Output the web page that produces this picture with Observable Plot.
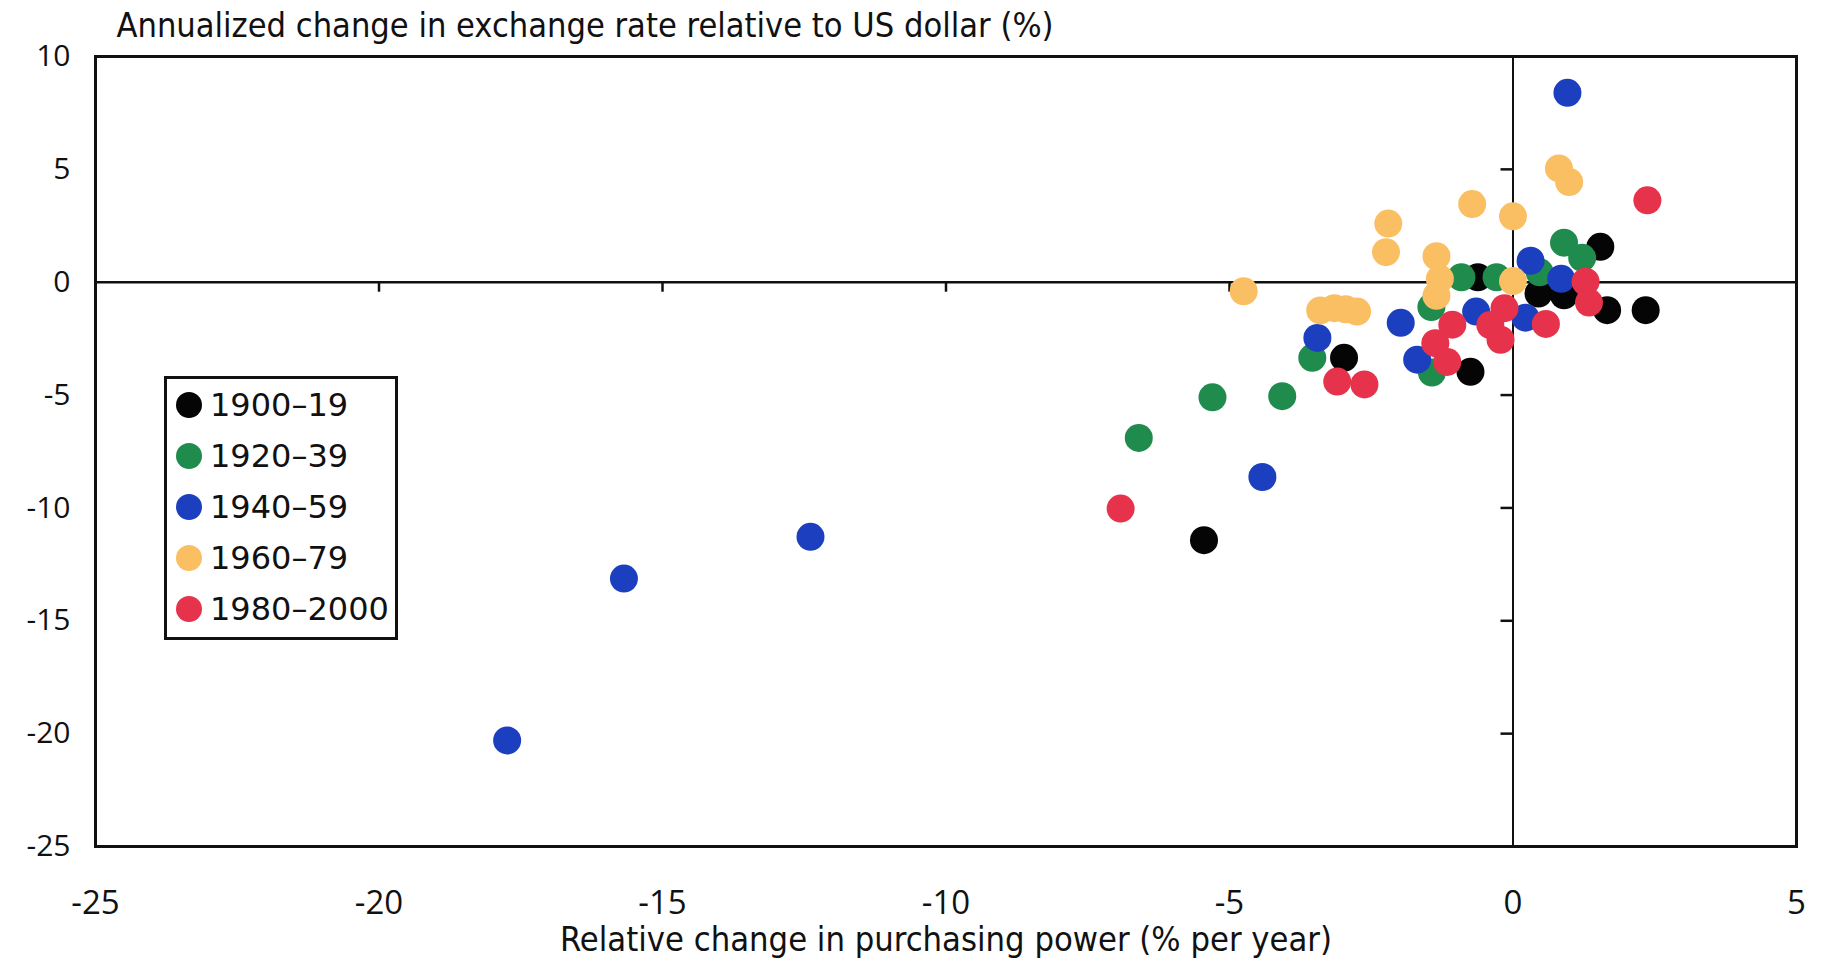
<!DOCTYPE html>
<html>
<head>
<meta charset="utf-8">
<script src="https://cdn.jsdelivr.net/npm/d3@7"></script>
<script src="https://cdn.jsdelivr.net/npm/@observablehq/plot@0.6"></script>
<style>
  html, body { margin: 0; padding: 0; background: #fff; }
  #wrap { position: relative; width: 1825px; height: 963px; }
  #legend {
    position: absolute; left: 164px; top: 376px; width: 234px; height: 264px;
    box-sizing: border-box; border: 3px solid #111; background: #fff;
    font-family: "DejaVu Sans", sans-serif; font-size: 32px; color: #111;
  }
  #legend .row { display: flex; align-items: center; height: 51px; }
  #legend .sw { width: 26px; height: 26px; border-radius: 50%; margin-left: 9px; margin-right: 8px; flex: none; }
</style>
</head>
<body>
<div id="wrap"><div id="legend"></div></div>
<script>
// ---- data ----
const periods = ["1900–19", "1920–39", "1940–59", "1960–79", "1980–2000"];
const colors = ["#050505", "#1f8b4c", "#1b3fbf", "#fbbf63", "#e6324b"];

const pts1900 = [[-5.45,-11.43],[-2.98,-3.35],[-0.75,-3.97],[-0.62,0.22],[0.45,-0.5],[0.9,-0.58],[1.54,1.57],[1.66,-1.24],[2.34,-1.24]];
const pts1920 = [[-6.6,-6.9],[-5.3,-5.1],[-4.07,-5.05],[-3.54,-3.35],[-1.44,-1.1],[-1.43,-4.0],[-0.91,0.22],[-0.29,0.22],[0.47,0.44],[0.9,1.75],[1.22,1.08]];
const pts1940 = [[-17.74,-20.3],[-15.68,-13.13],[-12.39,-11.28],[-4.42,-8.63],[-3.45,-2.47],[-1.98,-1.8],[-1.69,-3.43],[-0.65,-1.3],[0.22,-1.57],[0.31,0.95],[0.85,0.15],[0.96,8.39]];
const pts1960 = [[-4.75,-0.4],[-3.4,-1.25],[-3.15,-1.15],[-2.95,-1.2],[-2.75,-1.3],[-2.2,2.6],[-2.24,1.33],[-1.35,1.15],[-1.29,0.15],[-1.35,-0.6],[-0.72,3.46],[0.0,2.92],[0.0,0.05],[0.81,5.04],[0.99,4.44]];
const pts1980 = [[-6.92,-10.03],[-3.1,-4.4],[-2.62,-4.53],[-1.37,-2.7],[-1.16,-3.53],[-1.07,-1.88],[-0.4,-1.9],[-0.22,-2.55],[-0.15,-1.15],[0.58,-1.85],[1.28,0.02],[1.34,-0.9],[2.37,3.63]];

const xTicks = [-25, -20, -15, -10, -5, 0, 5];
const yTicks = [10, 5, 0, -5, -10, -15, -20, -25];
const xInnerTicks = [-20, -15, -10, -5];
const yInnerTicks = [5, -5, -10, -15, -20];
const titleText = "Annualized change in exchange rate relative to US dollar (%)";
const xLabelText = "Relative change in purchasing power (% per year)";

// ---- build table ----
const series = [pts1900, pts1920, pts1940, pts1960, pts1980];
const rows = [];
series.forEach((pts, i) => pts.forEach(([x, y]) => rows.push({period: periods[i], x, y})));

const fmt = d => String(d);
const condensed = "'Liberation Sans Narrow', 'DejaVu Sans Condensed', 'Open Sans', sans-serif";

const chart = Plot.plot({
  width: 1825,
  height: 963,
  marginLeft: 95,
  marginRight: 29,
  marginTop: 56,
  marginBottom: 117,
  style: {background: "#fff", color: "#111"},
  x: {domain: [-25, 5]},
  y: {domain: [-25, 10]},
  color: {domain: periods, range: colors},
  marks: [
    Plot.ruleY([0], {stroke: "#111", strokeWidth: 2.5}),
    Plot.ruleX([0], {stroke: "#111", strokeWidth: 2}),
    Plot.ruleX(xInnerTicks, {x: d => d, y1: 0, y2: 0, insetBottom: -10, stroke: "#111", strokeWidth: 2.5}),
    Plot.ruleY(yInnerTicks, {y: d => d, x1: 0, x2: 0, insetLeft: -12, stroke: "#111", strokeWidth: 2.5}),
    Plot.dot(rows, {x: "x", y: "y", fill: "period", r: 14}),
    Plot.frame({stroke: "#111", strokeWidth: 3}),
    Plot.axisX({ticks: xTicks, tickSize: 0, tickPadding: 44, tickFormat: fmt, label: null,
                fontSize: 33, fontFamily: "'Open Sans', sans-serif"}),
    Plot.axisY({ticks: yTicks, tickSize: 0, tickPadding: 25, tickFormat: fmt, label: null,
                fontSize: 30, fontFamily: "'Open Sans', sans-serif"}),
    Plot.text([titleText], {frameAnchor: "top-left", dx: 21, dy: -30, textAnchor: "start",
                lineAnchor: "middle", fontSize: 33, fontFamily: condensed, fill: "#111"}),
    Plot.text([xLabelText], {frameAnchor: "bottom", dy: 94, lineAnchor: "middle",
                fontSize: 33, fontFamily: condensed, fill: "#111"})
  ]
});

// fit the condensed captions to the widths seen in the reference
d3.select(chart).selectAll("text").each(function () {
  const t = this.textContent;
  if (t === titleText) { this.setAttribute("textLength", 937); this.setAttribute("lengthAdjust", "spacingAndGlyphs"); }
  if (t === xLabelText) { this.setAttribute("textLength", 772); this.setAttribute("lengthAdjust", "spacingAndGlyphs"); }
});

document.getElementById("wrap").prepend(chart);

// legend
const legend = d3.select("#legend");
periods.forEach((p, i) => {
  const row = legend.append("div").attr("class", "row");
  row.append("span").attr("class", "sw").style("background", colors[i]);
  row.append("span").text(p);
});
</script>
</body>
</html>
